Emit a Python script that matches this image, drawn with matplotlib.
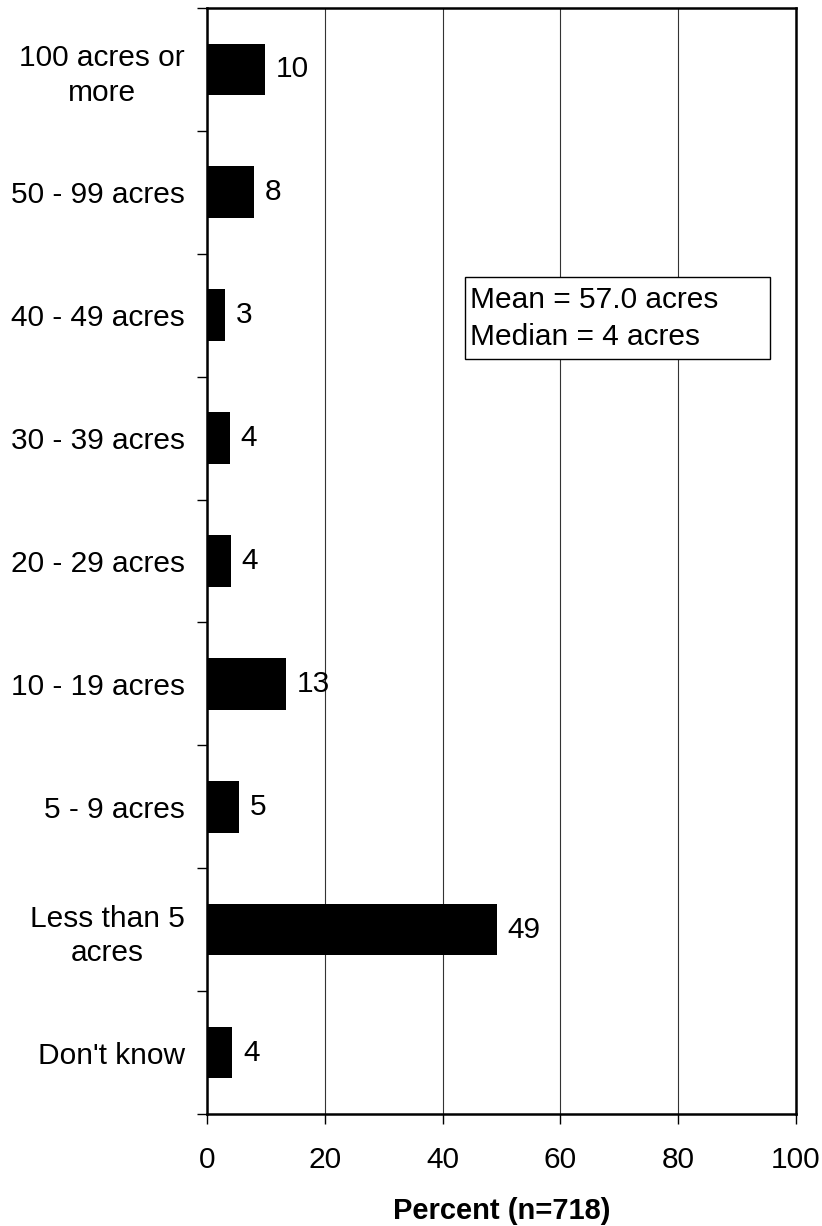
import matplotlib.pyplot as plt
from matplotlib.patches import Rectangle
from matplotlib.ticker import FixedLocator

plt.rcParams['font.family'] = ['Liberation Sans', 'DejaVu Sans']

categories = ['100 acres or\nmore', '50 - 99 acres', '40 - 49 acres', '30 - 39 acres',
              '20 - 29 acres', '10 - 19 acres', '5 - 9 acres', 'Less than 5\nacres', "Don't know"]
percent = [9.8, 8.0, 3.1, 3.9, 4.1, 13.4, 5.4, 49.2, 4.3]
x_ticks = [0, 20, 40, 60, 80, 100]
stats_text = 'Mean = 57.0 acres\nMedian = 4 acres'

fs = 21.5

fig = plt.figure(figsize=(8.22, 12.26), dpi=100)
ax = fig.add_axes([0.2518, 0.0914, 0.7166, 0.9021])

ypos = list(range(len(categories)))
ax.barh(ypos, percent, height=0.42, color='black', zorder=3)
for y, v in zip(ypos, percent):
    ax.text(v + 1.8, y, f'{v:.0f}', va='center', ha='left', fontsize=fs, zorder=4)

ax.set_xlim(0, 100)
ax.set_ylim(len(categories) - 0.5, -0.5)
ax.set_xticks(x_ticks)
ax.set_xticklabels([str(t) for t in x_ticks], fontsize=fs)
ax.set_yticks(ypos)
ax.set_yticklabels(categories, fontsize=fs, ha='right', multialignment='center', linespacing=1.28)
ax.yaxis.set_minor_locator(FixedLocator([i - 0.5 for i in range(len(categories) + 1)]))
ax.tick_params(axis='y', which='major', length=0, pad=16)
ax.tick_params(axis='y', which='minor', length=7, width=1, direction='out')
ax.tick_params(axis='x', which='major', length=7, width=1, direction='out', pad=16)

ax.grid(axis='x', color='#333333', linewidth=0.8, zorder=0)
for s in ax.spines.values():
    s.set_linewidth(1.8)

ax.set_xlabel('Percent (n=718)', fontsize=21, fontweight='bold', labelpad=17)

# stats box
ax.add_patch(Rectangle((43.8, 1.69), 51.8, 0.67, facecolor='white', edgecolor='black',
                       linewidth=1, zorder=5))
ax.text(44.6, 2.03, stats_text, fontsize=fs, va='center', ha='left', linespacing=1.4, zorder=6)

fig.savefig('out.png', dpi=100)
